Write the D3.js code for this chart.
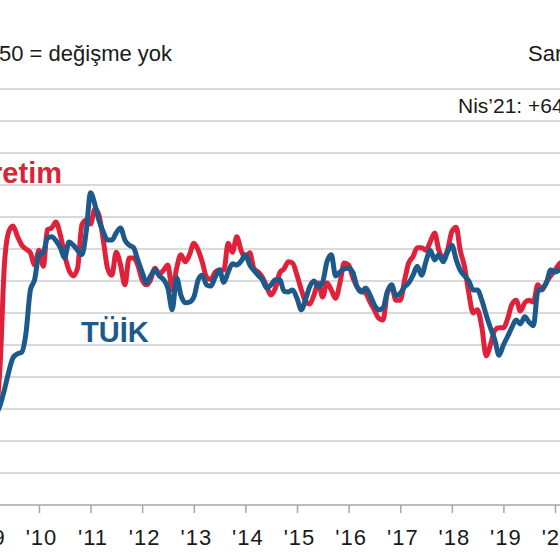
<!DOCTYPE html>
<html>
<head>
<meta charset="utf-8">
<script src="https://cdn.jsdelivr.net/npm/d3@7"></script>
<style>
  body { margin: 0; background: #fff; }
  text { font-family: "Liberation Sans", Arial, sans-serif; }
</style>
</head>
<body>
<div id="chart"></div>
<script>
// monthly series, first value = March 2009
var firstMonth = new Date(2009, 2, 1)
var uretim = [28.3, 36.9, 52.5, 57.7, 58.6, 57.0, 55.6, 55.0, 54.4, 52.5,
  54.8, 52.3, 58.0, 58.3, 59.2, 57.2, 54.1, 51.7, 50.8, 52.0,
  58.8, 59.5, 58.9, 61.3, 60.3, 56.4, 52.0, 50.9, 54.5, 52.5,
  49.4, 53.6, 53.6, 52.5, 50.2, 49.4, 50.2, 52.0, 51.1, 51.7,
  52.5, 48.6, 52.0, 54.1, 53.0, 54.1, 55.9, 54.8, 53.0, 50.6,
  50.2, 51.4, 51.7, 51.7, 55.9, 54.5, 56.9, 54.8, 53.6, 54.4,
  52.0, 51.4, 50.6, 49.1, 47.8, 48.9, 51.3, 51.9, 53.0, 52.8,
  50.9, 48.6, 46.9, 46.4, 47.8, 49.7, 47.5, 49.7, 48.6, 47.3,
  49.7, 52.8, 52.5, 50.5, 49.1, 48.4, 48.1, 46.7, 45.5, 44.2,
  43.9, 48.1, 49.1, 47.0, 47.0, 50.2, 52.8, 53.8, 55.2, 55.2,
  54.8, 56.1, 57.5, 54.8, 53.6, 54.8, 57.7, 58.4, 54.8, 52.2,
  48.1, 45.0, 45.5, 42.8, 38.3, 40.0, 42.3, 42.7, 42.7, 44.2,
  46.3, 47.0, 45.3, 46.6, 47.0, 46.7, 49.4, 48.6, 49.8, 50.8, 51.7, 52.7, 53.0]
var tuik = [29.1, 30.6, 33.0, 35.8, 38.0, 38.6, 38.9, 41.9, 48.6, 50.2,
  54.1, 54.5, 56.7, 56.9, 56.3, 55.2, 53.6, 56.1, 55.6, 54.8,
  54.1, 57.7, 63.8, 61.9, 59.5, 57.7, 56.4, 56.4, 57.5, 58.3,
  56.4, 55.6, 55.2, 53.3, 51.4, 49.7, 50.8, 51.7, 50.8, 50.2,
  48.9, 45.5, 50.5, 47.8, 46.6, 46.7, 47.5, 50.2, 50.9, 49.4,
  49.2, 50.6, 51.7, 49.8, 51.4, 52.7, 52.5, 53.1, 54.1, 52.5,
  51.7, 50.9, 50.2, 48.9, 49.4, 50.2, 50.2, 48.4, 48.3, 48.6,
  47.3, 45.5, 47.0, 49.1, 50.0, 49.1, 49.8, 53.0, 54.1, 50.8,
  51.4, 51.9, 52.0, 51.3, 49.1, 48.3, 48.9, 47.8, 46.3, 45.5,
  45.8, 48.3, 49.4, 47.7, 48.1, 49.1, 49.7, 50.9, 52.3, 50.9,
  53.0, 54.8, 53.3, 54.1, 53.0, 54.5, 55.6, 53.3, 51.7, 50.8,
  50.0, 48.6, 48.6, 47.0, 44.7, 42.7, 40.8, 38.4, 40.0, 41.4,
  42.7, 43.9, 43.3, 44.4, 43.6, 43.0, 48.3, 48.8, 49.7, 51.7, 51.4, 51.7, 52.0]
var years = [2009, 2010, 2011, 2012, 2013, 2014, 2015, 2016, 2017, 2018, 2019, 2020, 2021]
var gridValues = [20, 25, 30, 35, 40, 45, 50, 55, 60, 65, 70, 75, 80]

var width = 560, height = 560

var svg = d3.select("#chart").append("svg")
  .attr("width", width)
  .attr("height", height)

var x = d3.scaleTime()
  .domain([new Date(2010, 0, 1), new Date(2020, 0, 1)])
  .range([39, 555])
var y = d3.scaleLinear()
  .domain([15, 80])
  .range([505, 89])

var months = uretim.map((d, i) => d3.timeMonth.offset(firstMonth, i))

// gridlines
svg.append("g")
  .selectAll("line")
  .data(gridValues)
  .enter().append("line")
  .attr("x1", 0)
  .attr("x2", width)
  .attr("y1", d => y(d))
  .attr("y2", d => y(d))
  .attr("stroke", "#d9d9d9")
  .attr("stroke-width", 1.8)

// x axis
var xAxis = d3.axisBottom(x)
  .tickValues(years.map(yr => new Date(yr, 0, 1)))
  .tickFormat(d => "'" + String(d.getFullYear()).slice(2))
  .tickSize(8)
  .tickPadding(16)
var gx = svg.append("g")
  .attr("transform", "translate(0," + y(15) + ")")
  .call(xAxis)
gx.select(".domain").remove()
gx.insert("line", ":first-child")
  .attr("x1", 0).attr("x2", width)
  .attr("stroke", "#a6a6a6").attr("stroke-width", 1.5)
gx.selectAll(".tick line").attr("stroke", "#a6a6a6").attr("stroke-width", 1.5)
gx.selectAll(".tick text")
  .attr("font-size", 22)
  .attr("fill", "#1a1a1a")
  .attr("dx", 2)
  .style("letter-spacing", "1px")
  .style("font-family", "Liberation Sans, Arial, sans-serif")

var line = d3.line()
  .x((d, i) => x(months[i]))
  .y(d => y(d))
  .curve(d3.curveMonotoneX)

svg.append("path")
  .datum(uretim)
  .attr("d", line)
  .attr("fill", "none")
  .attr("stroke", "#e0213a")
  .attr("stroke-width", 5)
  .attr("stroke-linejoin", "round")

svg.append("path")
  .datum(tuik)
  .attr("d", line)
  .attr("fill", "none")
  .attr("stroke", "#1d5a8c")
  .attr("stroke-width", 5)
  .attr("stroke-linejoin", "round")

// texts
svg.append("text")
  .attr("x", -1).attr("y", 61)
  .attr("font-size", 22)
  .attr("fill", "#1a1a1a")
  .text("50 = değişme yok")

svg.append("text")
  .attr("x", 528).attr("y", 61)
  .attr("font-size", 22)
  .attr("fill", "#1a1a1a")
  .text("Sarı")

svg.append("text")
  .attr("x", 458).attr("y", 113)
  .attr("font-size", 21)
  .attr("fill", "#1a1a1a")
  .text("Nis’21: +64")

svg.append("text")
  .attr("x", 62).attr("y", 183)
  .attr("text-anchor", "end")
  .attr("font-size", 29)
  .attr("font-weight", "bold")
  .attr("fill", "#d92436")
  .text("Üretim")

svg.append("text")
  .attr("x", 81).attr("y", 342)
  .attr("font-size", 29)
  .attr("font-weight", "bold")
  .attr("fill", "#1d5a8c")
  .text("TÜİK")
</script>
</body>
</html>
